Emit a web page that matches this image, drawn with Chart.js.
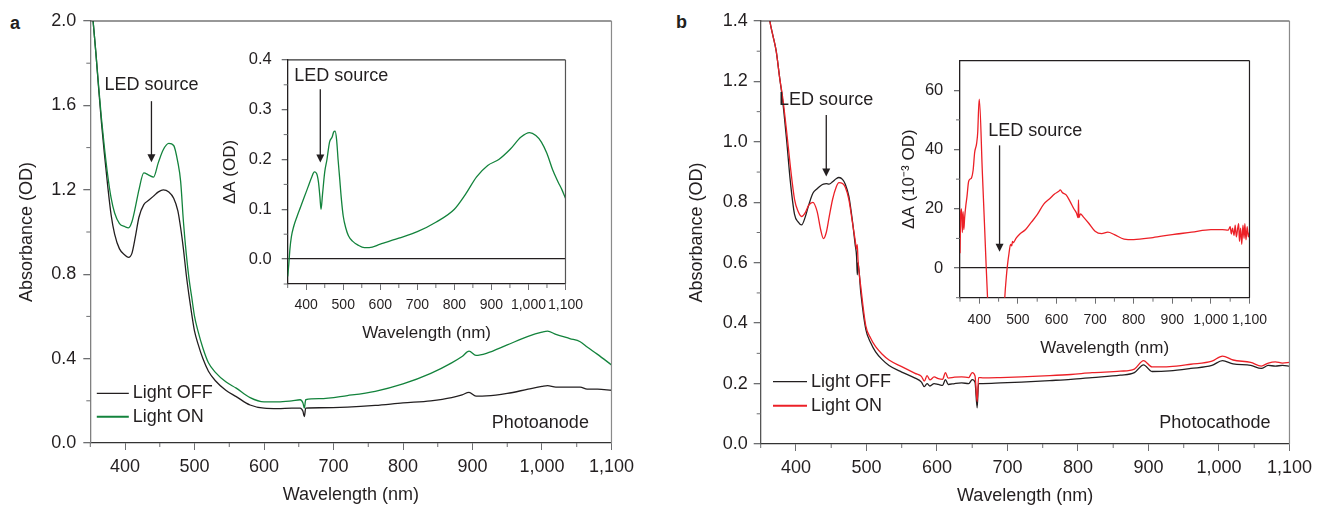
<!DOCTYPE html>
<html>
<head>
<meta charset="utf-8">
<script src="https://cdn.jsdelivr.net/npm/chart.js@4.4.0/dist/chart.umd.min.js"></script>
<style>
body { margin: 0; background: #fff; width: 1318px; height: 507px; position: relative; overflow: hidden; font-family: 'Liberation Sans', Arial, sans-serif; }
canvas { position: absolute; }
.tag { position: absolute; font-weight: bold; font-size: 18px; line-height: 18px; color: #231f20; }
</style>
</head>
<body>
<div class="tag" style="left:10px;top:14px">a</div>
<div class="tag" style="left:676px;top:13px">b</div>
<canvas id="mainA" width="640" height="507" style="left:0;top:0"></canvas>
<canvas id="insetA" width="380" height="305" style="left:210px;top:40px"></canvas>
<canvas id="mainB" width="648" height="507" style="left:670px;top:0"></canvas>
<canvas id="insetB" width="385" height="320" style="left:890px;top:40px"></canvas>
<script>
/* panel a: photoanode absorbance, light off / on */
const waveA = [350,354,358,362,366,370,375,380,385,392,400,405,410,415,420,427,434,441,448,455,463,470,476,480,484,488,492,496,500,505,512,520,530,545,560,580,600,620,640,652,656,658,660,680,720,760,800,840,870,885,895,905,920,950,980,1000,1008,1020,1040,1055,1065,1080,1100];
const offA = [2.15,2.0,1.85,1.68,1.52,1.38,1.22,1.08,0.99,0.92,0.89,0.88,0.90,0.98,1.07,1.13,1.15,1.17,1.19,1.20,1.19,1.16,1.10,1.02,0.92,0.80,0.70,0.61,0.53,0.47,0.40,0.34,0.295,0.25,0.22,0.18,0.165,0.163,0.165,0.165,0.15,0.125,0.165,0.167,0.17,0.178,0.19,0.20,0.215,0.228,0.24,0.222,0.223,0.235,0.255,0.268,0.272,0.265,0.265,0.265,0.255,0.255,0.25];
const onA = [2.15,2.0,1.85,1.69,1.54,1.41,1.27,1.16,1.09,1.04,1.025,1.02,1.05,1.12,1.20,1.28,1.27,1.26,1.33,1.39,1.42,1.41,1.33,1.24,1.05,0.90,0.78,0.69,0.60,0.53,0.45,0.38,0.335,0.29,0.26,0.215,0.195,0.195,0.20,0.205,0.19,0.165,0.205,0.21,0.225,0.245,0.28,0.33,0.38,0.41,0.435,0.415,0.425,0.465,0.505,0.525,0.53,0.515,0.495,0.48,0.455,0.42,0.37];

/* panel a inset: difference spectrum (OD) */
const waveInsetA = [350,353,356,360,366,375,385,395,405,415,422,428,433,437,440,444,450,456,463,470,474,478,482,486,490,495,500,507,514,525,540,557,570,600,650,700,750,800,830,860,890,920,950,980,1003,1020,1035,1050,1065,1080,1090,1100];
const deltaA = [-0.035,-0.01,0.02,0.045,0.065,0.085,0.105,0.125,0.145,0.165,0.175,0.172,0.155,0.125,0.10,0.13,0.175,0.20,0.235,0.245,0.255,0.257,0.24,0.20,0.165,0.12,0.086,0.062,0.047,0.036,0.028,0.023,0.023,0.03,0.042,0.055,0.074,0.10,0.13,0.165,0.188,0.20,0.22,0.245,0.254,0.248,0.235,0.212,0.18,0.155,0.14,0.122];

/* panel b: photocathode absorbance, light off / on */
const waveB = [350,355,360,363,367,372,377,381,387,392,398,403,408,413,418,424,430,435,439,443,447,452,457,461,466,470,475,480,484,486,487,488,492,499,506,513,522,532,550,569,578,582,586,590,596,602,608,612,616,625,635,645,650,654,657,659,665,690,720,760,790,820,860,880,893,905,930,960,990,1005,1020,1045,1060,1070,1080,1090,1100];
const offB = [1.62,1.54,1.46,1.40,1.355,1.30,1.21,1.14,1.00,0.87,0.76,0.735,0.725,0.75,0.79,0.83,0.845,0.855,0.86,0.862,0.86,0.868,0.878,0.882,0.876,0.86,0.82,0.74,0.66,0.62,0.56,0.60,0.50,0.38,0.335,0.305,0.28,0.26,0.238,0.218,0.205,0.19,0.20,0.192,0.2,0.197,0.194,0.213,0.197,0.2,0.202,0.2,0.213,0.204,0.12,0.2,0.2,0.202,0.205,0.21,0.214,0.22,0.228,0.236,0.262,0.24,0.242,0.25,0.26,0.276,0.265,0.26,0.25,0.26,0.258,0.26,0.258];
const onB = [1.62,1.54,1.46,1.40,1.355,1.30,1.21,1.15,1.03,0.92,0.81,0.77,0.753,0.765,0.79,0.80,0.77,0.71,0.68,0.70,0.75,0.81,0.85,0.865,0.862,0.85,0.81,0.735,0.675,0.645,0.66,0.61,0.52,0.392,0.35,0.322,0.298,0.278,0.256,0.234,0.224,0.208,0.226,0.212,0.222,0.216,0.214,0.236,0.218,0.221,0.222,0.22,0.236,0.225,0.14,0.22,0.219,0.22,0.222,0.226,0.23,0.236,0.241,0.248,0.276,0.255,0.256,0.264,0.274,0.291,0.278,0.27,0.258,0.268,0.272,0.268,0.27];

/* panel b inset: difference spectrum (10^-3 OD) */
const waveInsetB = [350,352,354,356,358,360,362,365,368,372,376,380,384,388,393,396,398,400,408,414,418,424,440,455,462,466,470,473,477,481,484,486,488,495,505,520,535,550,567,583,595,605,610,615,625,635,645,652,656,657,658,662,670,683,700,717,733,750,775,800,850,900,950,1000,1030,1045,1050,1053,1056,1060,1063,1066,1069,1072,1074,1077,1080,1083,1086,1088,1091,1094,1097,1100];
const deltaB = [5,19,20,12,19,13,17,21,24,29,30,30.5,33,39,42,46,53,57,32,13,0,-18,-60,-45,-22,-10,-3,1,5,8,7.5,9,8.6,10,11.5,13,15.5,18,21.6,23.5,25,25.8,26.4,25.5,24.7,22.5,20,18.5,17,23,17,18.3,17.2,15.2,12.4,11.6,12.1,11.3,9.8,9.6,10.3,11.3,12.1,13,13,12.8,14,11.5,13.5,11,14.5,10.5,13,15,9,13.5,8,14.5,10,15,9.5,14,10.5,12];

/* tick positions */
const xMajor = [400,500,600,700,800,900,1000,1100];
const xMinor = [350,450,550,650,750,850,950,1050];
const yMajorA = [0,0.4,0.8,1.2,1.6,2.0];
const yMinorA = [0.2,0.6,1.0,1.4,1.8];
const yMajorInsetA = [0,0.1,0.2,0.3,0.4];
const yMinorInsetA = [-0.05,0.05,0.15,0.25,0.35];
const yMajorB = [0,0.2,0.4,0.6,0.8,1.0,1.2,1.4];
const yMinorB = [0.1,0.3,0.5,0.7,0.9,1.1,1.3];
const yMajorInsetB = [0,20,40,60];
const yMinorInsetB = [-10,10,30,50];

const GREEN = '#13833c';
const RED = '#ec2027';
const INK = '#231f20';
const TICK = '#6d6e71';
const FONT = "'Liberation Sans', Arial, sans-serif";

Chart.defaults.font.family = FONT;
Chart.defaults.color = INK;

const pts = (xs, ys) => xs.map((x, i) => ({x: x, y: ys[i]}));

// frame (top/right), minor ticks, arrow and labels
function decor(cfg) {
  return {
    id: 'decor',
    afterDraw(chart) {
      const {ctx, chartArea: a, scales: {x, y}} = chart;
      const line = (x1, y1, x2, y2) => { ctx.beginPath(); ctx.moveTo(x1, y1); ctx.lineTo(x2, y2); ctx.stroke(); };
      ctx.save();
      ctx.lineWidth = 1.2;
      ctx.strokeStyle = cfg.top; line(a.left, a.top, a.right, a.top);
      ctx.strokeStyle = cfg.right; line(a.right, a.top, a.right, a.bottom);
      ctx.strokeStyle = TICK; ctx.lineWidth = 1;
      cfg.minorX.forEach(v => { const p = x.getPixelForValue(v); line(p, a.bottom, p, a.bottom + cfg.minor); });
      cfg.minorY.forEach(v => { const p = y.getPixelForValue(v); line(a.left - cfg.minor, p, a.left, p); });

      const ar = cfg.arrow;
      const ax = x.getPixelForValue(ar.x), y1 = y.getPixelForValue(ar.from), y2 = y.getPixelForValue(ar.to);
      ctx.strokeStyle = INK; ctx.fillStyle = INK; ctx.lineWidth = 1.3;
      line(ax, y1, ax, y2 - 6);
      ctx.beginPath(); ctx.moveTo(ax - 4, y2 - 8); ctx.lineTo(ax + 4, y2 - 8); ctx.lineTo(ax, y2); ctx.closePath(); ctx.fill();
      ctx.font = '18px ' + FONT;
      ctx.textAlign = 'center'; ctx.textBaseline = 'middle';
      ctx.fillText('LED source', x.getPixelForValue(ar.textX), y.getPixelForValue(ar.textY));

      if (cfg.label) {
        ctx.textAlign = 'right';
        ctx.fillText(cfg.label.text, x.getPixelForValue(cfg.label.x), y.getPixelForValue(cfg.label.y));
      }
      if (cfg.legend) {
        const lg = cfg.legend;
        chart.data.datasets.forEach((ds, i) => {
          const ly = a.bottom - lg.bottom + i * lg.gap;
          ctx.strokeStyle = ds.borderColor; ctx.lineWidth = i ? 2 : 1.3;
          line(a.left + lg.left, ly, a.left + lg.left + lg.len, ly);
          ctx.textAlign = 'left';
          ctx.fillText(ds.label, a.left + lg.left + lg.len + 4, ly);
        });
      }
      ctx.restore();
    }
  };
}

function scales(o) {
  return {
    x: {
      type: 'linear', min: 350, max: 1100,
      afterBuildTicks: s => { s.ticks = xMajor.map(v => ({value: v})); },
      afterFit: s => { s.height = o.xh; },
      border: {color: o.bottom, width: 1.3},
      grid: {drawOnChartArea: false, tickLength: o.tick, tickColor: TICK},
      ticks: {autoSkip: false, maxRotation: 0, padding: o.xpad, font: {size: o.xfont},
        callback: v => v.toLocaleString('en-US')},
      title: {display: true, text: 'Wavelength (nm)', font: {size: o.tfont}, padding: {top: 0, bottom: o.xtpad}}
    },
    y: {
      type: 'linear', min: o.ymin, max: o.ymax,
      afterBuildTicks: s => { s.ticks = o.yMajor.map(v => ({value: v})); },
      afterFit: s => { s.width = o.yw; },
      border: {color: o.left, width: 1.3},
      grid: {
        drawOnChartArea: !!o.zero, tickLength: o.tick, tickColor: TICK, lineWidth: 1.3,
        color: c => (o.zero && c.tick && c.tick.value === 0) ? INK : 'rgba(0,0,0,0)'
      },
      ticks: {autoSkip: false, padding: o.ypad, font: {size: o.yfont}, callback: o.fmt},
      title: {display: true, text: o.ytitle, font: {size: o.tfont}, padding: {top: o.ytpad, bottom: 0}}
    }
  };
}

function lineSet(label, xs, ys, color, order) {
  return {label: label, data: pts(xs, ys), borderColor: color, borderWidth: 1.3,
    pointRadius: 0, cubicInterpolationMode: 'monotone', order: order};
}

const base = {responsive: false, animation: false, devicePixelRatio: 1,
  plugins: {legend: {display: false}, tooltip: {enabled: false}}};

new Chart(document.getElementById('mainA'), {
  type: 'line',
  data: {datasets: [lineSet('Light OFF', waveA, offA, INK, 1), lineSet('Light ON', waveA, onA, GREEN, 0)]},
  options: Object.assign({}, base, {
    layout: {autoPadding: false, padding: {top: 21, right: 17, left: 0, bottom: 0}},
    scales: scales({xh: 64, yw: 90.3, tick: 7, xpad: 6, ypad: 7, xfont: 18, yfont: 18, tfont: 18,
      xtpad: 1.2, ytpad: 16, ymin: 0, ymax: 2.0, yMajor: yMajorA, fmt: v => v.toFixed(1),
      ytitle: 'Absorbance (OD)', bottom: '#333', left: '#808080'})
  }),
  plugins: [decor({top: '#333', right: '#8a8a8a', minor: 4, minorX: xMinor, minorY: yMinorA,
    arrow: {x: 438, from: 1.62, to: 1.33, textX: 438, textY: 1.697},
    label: {text: 'Photoanode', x: 1067.5, y: 0.095},
    legend: {left: 6.5, len: 32, bottom: 49.7, gap: 23.4}})]
});

new Chart(document.getElementById('insetA'), {
  type: 'line',
  data: {datasets: [lineSet('ΔA', waveInsetA, deltaA, GREEN, 0)]},
  options: Object.assign({}, base, {
    layout: {autoPadding: false, padding: {top: 10, right: 5, left: 0, bottom: 0}},
    scales: scales({xh: 61, yw: 77.7, tick: 6, xpad: 7, ypad: 10, xfont: 14, yfont: 16.5, tfont: 17,
      xtpad: 1.8, ytpad: 9.8, ymin: -0.05, ymax: 0.4, yMajor: yMajorInsetA, fmt: v => v.toFixed(1),
      ytitle: '\u0394A (OD)', bottom: INK, left: INK, zero: true})
  }),
  plugins: [decor({top: '#333', right: '#555', minor: 4, minorX: xMinor, minorY: yMinorInsetA,
    arrow: {x: 438, from: 0.341, to: 0.194, textX: 494.6, textY: 0.367}})]
});

new Chart(document.getElementById('mainB'), {
  type: 'line',
  data: {datasets: [lineSet('Light OFF', waveB, offB, INK, 1), lineSet('Light ON', waveB, onB, RED, 0)]},
  options: Object.assign({}, base, {
    layout: {autoPadding: false, padding: {top: 21, right: 24, left: 0, bottom: 0}},
    scales: scales({xh: 63, yw: 90.7, tick: 7, xpad: 6, ypad: 6, xfont: 18, yfont: 18, tfont: 18,
      xtpad: 0, ytpad: 16, ymin: 0, ymax: 1.4, yMajor: yMajorB, fmt: v => v.toFixed(1),
      ytitle: 'Absorbance (OD)', bottom: '#333', left: '#555'})
  }),
  plugins: [decor({top: '#333', right: '#8a8a8a', minor: 4, minorX: xMinor, minorY: yMinorB,
    arrow: {x: 443, from: 1.089, to: 0.885, textX: 442.8, textY: 1.139},
    label: {text: 'Photocathode', x: 1073, y: 0.0705},
    legend: {left: 12.3, len: 34, bottom: 62.3, gap: 24}})]
});

new Chart(document.getElementById('insetB'), {
  type: 'line',
  data: {datasets: [lineSet('ΔA', waveInsetB, deltaB, RED, 0)]},
  options: Object.assign({}, base, {
    layout: {autoPadding: false, padding: {top: 9.3, right: 15, left: 0, bottom: 0}},
    scales: scales({xh: 62.3, yw: 70, tick: 6, xpad: 8, ypad: 10.7, xfont: 14, yfont: 16.5, tfont: 17,
      xtpad: 1.5, ytpad: 8.8, ymin: -10, ymax: 70, yMajor: yMajorInsetB, fmt: v => String(v),
      ytitle: '\u0394A (10\u207B\u00B3 OD)', bottom: INK, left: INK, zero: true})
  }),
  plugins: [decor({top: INK, right: INK, minor: 4, minorX: xMinor, minorY: yMinorInsetB,
    arrow: {x: 452.5, from: 41.4, to: 5.5, textX: 545, textY: 46.4}})]
});
</script>
</body>
</html>
